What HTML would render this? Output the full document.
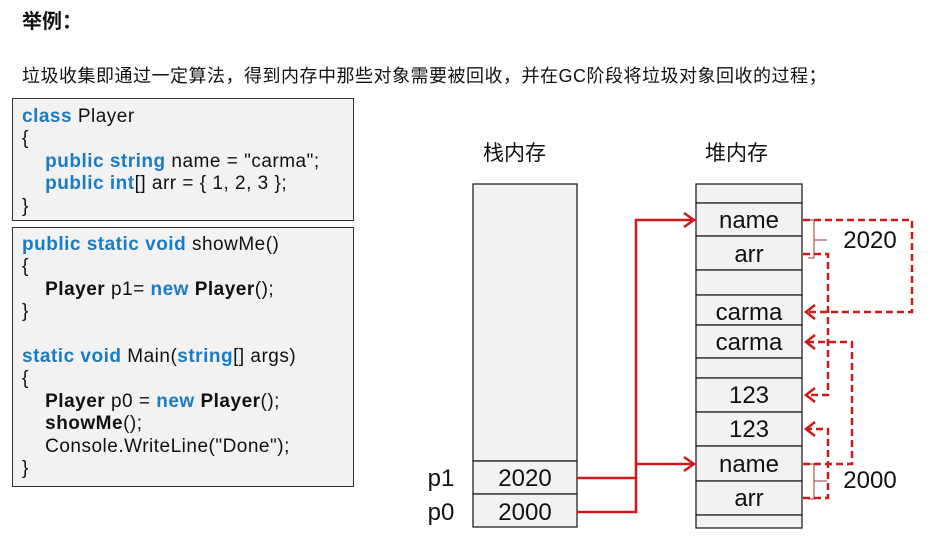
<!DOCTYPE html>
<html><head><meta charset="utf-8"><style>
body{margin:0;width:932px;height:539px;background:#fff;position:relative;overflow:hidden;font-family:"Liberation Sans","Noto Sans CJK SC",sans-serif;}
.t{position:absolute;white-space:nowrap;color:#111}
.box{position:absolute;border:1.5px solid #333;background:#f2f2f2;box-sizing:border-box}
.code{position:absolute;font-size:19px;line-height:22.4px;white-space:pre;color:#111;letter-spacing:0.5px}
.k{color:#1a7cc4;font-weight:bold}
b{font-weight:bold}
</style></head><body>
<div class="t" style="left:22px;top:5px;font-size:20px;font-weight:bold">举例：</div>
<div class="t" style="left:22px;top:62px;font-size:18px;letter-spacing:0.5px">垃圾收集即通过一定算法，得到内存中那些对象需要被回收，并在GC阶段将垃圾对象回收的过程；</div>
<div class="box" style="left:12px;top:98px;width:342px;height:123px"></div>
<div class="code" style="left:22px;top:106px"><span class="k">class</span> Player
{
    <span class="k">public string</span> name = "carma";
    <span class="k">public int</span>[] arr = { 1, 2, 3 };
}</div>
<div class="box" style="left:12px;top:227px;width:342px;height:260px"></div>
<div class="code" style="left:22px;top:234px"><span class="k">public static void</span> showMe()
{
    <b>Player</b> p1= <span class="k">new</span> <b>Player</b>();
}

<span class="k">static void</span> Main(<span class="k">string</span>[] args)
{
    <b>Player</b> p0 = <span class="k">new</span> <b>Player</b>();
    <b>showMe</b>();
    Console.WriteLine("Done");
}</div>
<div class="t" style="left:483px;top:137px;font-size:21px">栈内存</div>
<div class="t" style="left:705px;top:137px;font-size:21px">堆内存</div>
<svg width="932" height="539" style="position:absolute;left:0;top:0" font-family="Liberation Sans, sans-serif">
<g fill="#f2f2f2" stroke="#222" stroke-width="1.3">
<rect x="473" y="184" width="104" height="277"/>
<rect x="473" y="461" width="104" height="33"/>
<rect x="473" y="494" width="104" height="33"/>
<rect x="696" y="184" width="106" height="19"/>
<rect x="696" y="203" width="106" height="33"/>
<rect x="696" y="236" width="106" height="34"/>
<rect x="696" y="270" width="106" height="25"/>
<rect x="696" y="295" width="106" height="30"/>
<rect x="696" y="325" width="106" height="33"/>
<rect x="696" y="358" width="106" height="20"/>
<rect x="696" y="378" width="106" height="34"/>
<rect x="696" y="412" width="106" height="34"/>
<rect x="696" y="446" width="106" height="35"/>
<rect x="696" y="481" width="106" height="34"/>
<rect x="696" y="515" width="106" height="13"/>
</g>
<g font-size="24" fill="#111" text-anchor="middle">
<text x="525" y="486">2020</text><text x="525" y="520">2000</text>
<text x="749" y="228">name</text><text x="749" y="262">arr</text>
<text x="749" y="320">carma</text><text x="749" y="350">carma</text>
<text x="749" y="403">123</text><text x="749" y="437">123</text>
<text x="749" y="472">name</text><text x="749" y="506">arr</text>
<text x="441" y="486">p1</text><text x="441" y="520">p0</text>
<text x="870" y="248">2020</text><text x="870" y="488">2000</text>
</g>
<g stroke="#d01818" stroke-width="2.5" fill="none">
<polyline points="577,478 636,478"/><polyline points="577,512 636,512 636,220 694,220"/>
<polyline points="636,464 694,464"/>
<polyline points="684,213 694,220 684,227"/><polyline points="684,457 694,464 684,471"/>
</g>
<g stroke="#d01818" stroke-width="2.5" fill="none" stroke-dasharray="7,4">
<polyline points="803,220 912,220 912,312 806,312"/>
<polyline points="803,254 828,254 828,395 806,395"/>
<polyline points="803,464 852,464 852,342 806,342"/>
<polyline points="803,498 828,498 828,429 806,429"/>
</g>
<g stroke="#d01818" stroke-width="2.5" fill="none">
<polyline points="815,305 806,312 815,319"/><polyline points="815,388 806,395 815,402"/>
<polyline points="815,335 806,342 815,349"/><polyline points="815,422 806,429 815,436"/>
</g>
<g stroke="#a03030" stroke-width="1" fill="none">
<polyline points="808,220 814,220 814,258 808,258"/><line x1="814" y1="240" x2="827" y2="240"/>
<polyline points="808,464 814,464 814,499 808,499"/><line x1="814" y1="481" x2="827" y2="481"/>
</g>
</svg>
</body></html>
